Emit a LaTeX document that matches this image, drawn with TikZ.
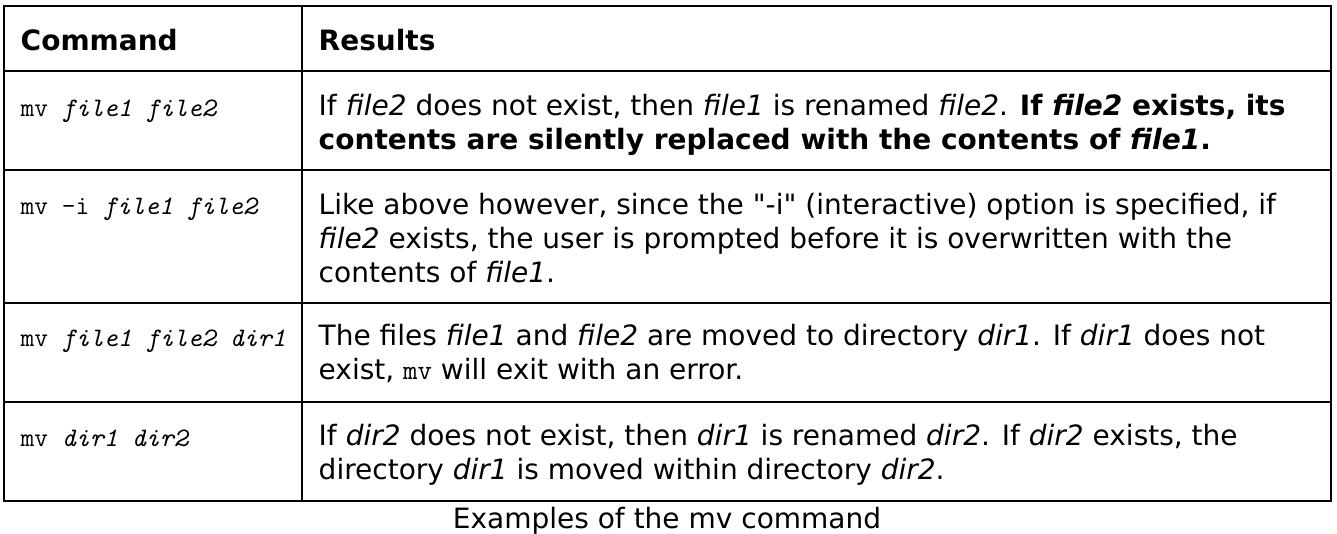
\documentclass[tikz,border=0pt]{standalone}
\usepackage{fontspec}
\setmainfont{DejaVu Sans}
\tikzset{every picture/.style={line width=1.1pt}}
\tikzset{
  celltext/.style={anchor=base west, inner sep=0pt, align=left, font=\fontsize{21}{25.5}\selectfont},
  cmdtext/.style={anchor=base west, inner sep=0pt, font=\fontsize{20}{25.5}\selectfont\ttfamily},
}

\begin{document}
\begin{tikzpicture}[x=0.75pt,y=0.75pt,yscale=-1,xscale=1]
\useasboundingbox (0,0) rectangle (1337,533);

%Shape: Rectangle [id:frame]
\draw   (4,6) rectangle (1331,501) ;
%Straight Lines [id:colrule]
\draw    (302,6) -- (302,501) ;
%Straight Lines [id:rowrules]
\foreach \y in {71,170,303,402} {\draw    (4,\y) -- (1331,\y) ;}

% Text Node (base = last line)
\node (hdcmd) [celltext] at (20,50) {\textbf{Command}};
% Text Node
\node (hdres) [celltext] at (318,50) {\textbf{Results}};
% Text Node
\node (cmdA) [cmdtext] at (20,116) {mv \textit{file1 file2}};
% Text Node
\node (resA) [celltext] at (318,149) {If \textit{file2} does not exist, then \textit{file1} is renamed \textit{file2}. \textbf{If \textit{file2} exists, its}\\
\textbf{contents are silently replaced with the contents of \textit{file1}.}};
% Text Node
\node (cmdB) [cmdtext] at (20,214) {mv -i \textit{file1 file2}};
% Text Node
\node (resB) [celltext] at (318,282) {Like above however, since the \textquotedbl-i\textquotedbl{} (interactive) option is specified, if\\
\textit{file2} exists, the user is prompted before it is overwritten with the\\
contents of \textit{file1}.};
% Text Node
\node (cmdC) [cmdtext] at (20,346) {mv \textit{file1 file2 dir1}};
% Text Node
\node (resC) [celltext] at (318,379) {The files \textit{file1} and \textit{file2} are moved to directory \textit{dir1}. If \textit{dir1} does not\\
exist, {\ttfamily mv} will exit with an error.};
% Text Node
\node (cmdD) [cmdtext] at (20,446) {mv \textit{dir1 dir2}};
% Text Node
\node (resD) [celltext] at (318,479) {If \textit{dir2} does not exist, then \textit{dir1} is renamed \textit{dir2}. If \textit{dir2} exists, the\\
directory \textit{dir1} is moved within directory \textit{dir2}.};
% Text Node
\node (caption) [celltext, anchor=base] at (667,528) {Examples of the mv command};

\end{tikzpicture}
\end{document}
